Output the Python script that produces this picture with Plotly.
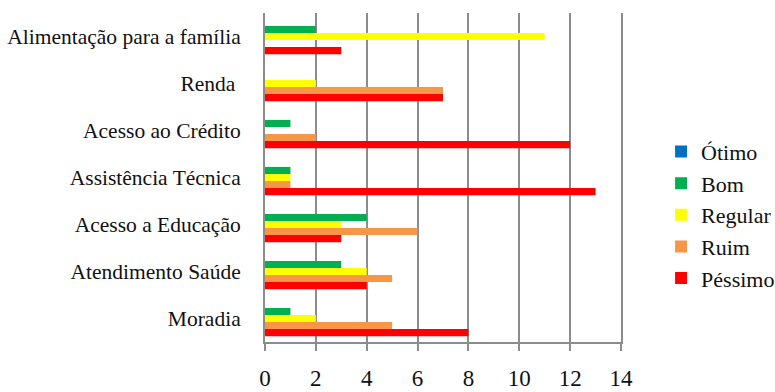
import plotly.graph_objects as go

categories = [
    "Alimentação para a família",
    "Renda ",
    "Acesso ao Crédito",
    "Assistência Técnica",
    "Acesso a Educação",
    "Atendimento Saúde",
    "Moradia",
]

series_names = ["Ótimo", "Bom", "Regular", "Ruim", "Péssimo"]
otimo = [0, 0, 0, 0, 0, 0, 0]
bom = [2, 0, 1, 1, 4, 3, 1]
regular = [11, 2, 0, 1, 3, 4, 2]
ruim = [0, 7, 2, 1, 6, 5, 5]
pessimo = [3, 7, 12, 13, 3, 4, 8]
series_values = [otimo, bom, regular, ruim, pessimo]
series_colors = ["#0070C0", "#00B050", "#FFFF00", "#F79646", "#FF0000"]

x_ticks = [0, 2, 4, 6, 8, 10, 12, 14]

FONT = "Liberation Serif"
GRID = "#8C8C8C"

fig = go.Figure()
for i, (name, vals, col) in enumerate(zip(series_names, series_values, series_colors)):
    fig.add_trace(go.Bar(
        y=categories, x=vals, name=name, orientation="h",
        marker=dict(color=col, line=dict(width=0)),
        legendgroup=f"g{i}",
    ))

fig.update_layout(
    width=775, height=392,
    margin=dict(l=265, r=154, t=13, b=50, autoexpand=False),
    paper_bgcolor="white", plot_bgcolor="white",
    barmode="group", bargap=0.25, bargroupgap=0,
    font=dict(family=FONT, color="#111111"),
    showlegend=True,
    legend=dict(
        x=0.853, xref="container", y=0.452, yref="container",
        xanchor="left", yanchor="middle",
        font=dict(family=FONT, size=22, color="#111111"),
        traceorder="grouped", tracegroupgap=0,
        bgcolor="rgba(0,0,0,0)",
    ),
    xaxis=dict(
        range=[0, 14], tickvals=x_ticks, ticktext=[str(t) for t in x_ticks],
        showgrid=True, gridcolor=GRID, gridwidth=2,
        showline=True, linecolor=GRID, linewidth=2,
        ticks="outside", ticklen=7, tickwidth=2, tickcolor=GRID,
        ticklabelstandoff=7, automargin=False,
        tickfont=dict(family=FONT, size=23, color="#111111"),
        zeroline=False, fixedrange=True,
    ),
    yaxis=dict(
        autorange="reversed",
        showgrid=False, showline=True, mirror=True,
        linecolor=GRID, linewidth=2,
        ticks="", ticklabelstandoff=18, automargin=False,
        tickfont=dict(family=FONT, size=21.5, color="#111111"),
        fixedrange=True,
    ),
)

fig.write_html("out.html")
